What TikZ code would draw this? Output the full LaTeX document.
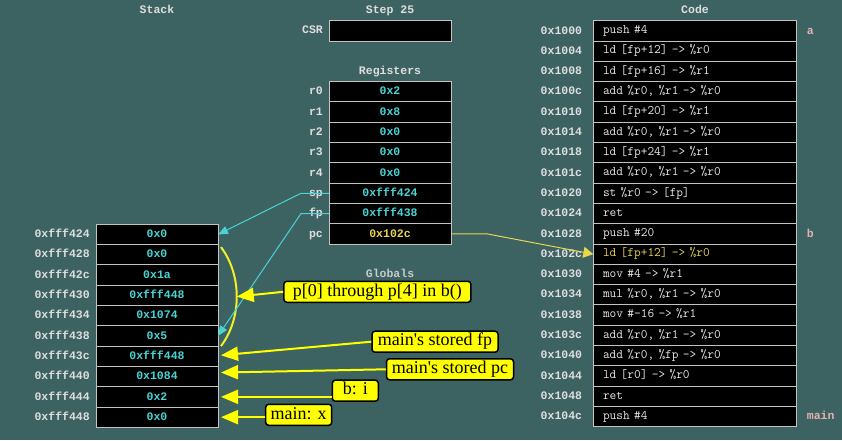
\documentclass[tikz,border=0pt]{standalone}
\usepackage{fontspec}
\usepackage{tikz}
\usetikzlibrary{positioning,arrows.meta}
\newfontfamily\lblmono{Liberation Mono}
\newfontfamily\calloutserif{Liberation Serif}

\definecolor{bgteal}{RGB}{61,98,98}
\definecolor{lblgrey}{RGB}{222,222,222}
\definecolor{cellline}{RGB}{195,195,195}
\definecolor{valcyan}{RGB}{72,212,212}
\definecolor{pcyellow}{RGB}{232,214,80}
\definecolor{codetxt}{RGB}{232,232,232}
\definecolor{tagpink}{RGB}{228,178,178}
\definecolor{noteyellow}{RGB}{255,255,0}
\definecolor{arcyellow}{RGB}{240,240,40}

\tikzset{
  lbl/.style={font=\lblmono\bfseries\fontsize{11.5}{12}\selectfont, text=lblgrey, inner sep=0pt, text height=9.4pt, text depth=3pt},
  cell/.style={draw=cellline, fill=black, line width=1pt, minimum width=122pt, minimum height=20.3pt, inner sep=0pt, outer sep=0pt, text height=9.4pt, text depth=3pt, font=\lblmono\bfseries\fontsize{11.5}{12}\selectfont, text=valcyan},
  codecell/.style={cell, minimum width=203.4pt, text width=184pt, inner xsep=9.7pt, align=left, text height=8.5pt, text depth=3pt, font=\ttfamily\fontsize{13}{14}\selectfont, text=codetxt},
  note/.style={draw=black, line width=1.5pt, fill=noteyellow, rounded corners=3pt, font=\calloutserif\fontsize{18}{20}\selectfont, inner xsep=5pt, inner ysep=0pt, minimum height=21pt, text height=12.5pt, text depth=4pt},
  notearrow/.style={draw=noteyellow, line width=2pt, -{Triangle[length=17pt,width=14pt]}},
  ptrline/.style={draw=valcyan, line width=1pt, -{Triangle[length=10pt,width=8pt]}},
}

\begin{document}
\begin{tikzpicture}[x=1pt, y=-1pt]
        \useasboundingbox (0,0) rectangle (842,440);
        \fill[bgteal] (0,0) rectangle (842,440);

        % Headers
        \node[lbl] (stackhead) at (157,10) {Stack};
        \node[lbl] (stephead) at (390,10) {Step 25};
        \node[lbl] (codehead) at (695,10) {Code};
        \node[lbl] (reghead) at (390,71) {Registers};
        \node[lbl, text=lblgrey!85!bgteal] (globhead) at (390,274) {Globals};

        % CSR
        \node[cell, minimum height=21pt] (csr) at (390,30.5) {};
        \node[lbl, left=6pt of csr] {CSR};

        % Registers
        \foreach \reg/\val [count=\i] in {r0/0x2, r1/0x8, r2/0x0, r3/0x0, r4/0x0, sp/0xfff424, fp/0xfff438, pc/0x102c}{
            \ifnum\i=8 \def\valcol{pcyellow}\else\def\valcol{valcyan}\fi
            \node[cell, text=\valcol] (r\reg) at (390,{71.45+20.3*\i}) {\val};
            \node[lbl, left=6pt of r\reg] {\reg};
        }

        % Stack
        \foreach \addr/\val [count=\i] in {0xfff424/0x0, 0xfff428/0x0, 0xfff42c/0x1a, 0xfff430/0xfff448, 0xfff434/0x1074,
            0xfff438/0x5, 0xfff43c/0xfff448, 0xfff440/0x1084, 0xfff444/0x2, 0xfff448/0x0}{
            \node[cell] (s\i) at (157,{214.15+20.3*\i}) {\val};
            \node[lbl, left=6pt of s\i] {\addr};
        }

        % Code
        \foreach \addr/\txt [count=\i] in {0x1000/{push \#4}, 0x1004/{ld [fp+12] -> \%r0}, 0x1008/{ld [fp+16] -> \%r1},
            0x100c/{add \%r0, \%r1 -> \%r0}, 0x1010/{ld [fp+20] -> \%r1}, 0x1014/{add \%r0, \%r1 -> \%r0},
            0x1018/{ld [fp+24] -> \%r1}, 0x101c/{add \%r0, \%r1 -> \%r0}, 0x1020/{st \%r0 -> [fp]}, 0x1024/{ret},
            0x1028/{push \#20}, 0x102c/{ld [fp+12] -> \%r0}, 0x1030/{mov \#4 -> \%r1}, 0x1034/{mul \%r0, \%r1 -> \%r0},
            0x1038/{mov \#-16 -> \%r1}, 0x103c/{add \%r0, \%r1 -> \%r0}, 0x1040/{add \%r0, \%fp -> \%r0},
            0x1044/{ld [r0] -> \%r0}, 0x1048/{ret}, 0x104c/{push \#4}}{
            \ifnum\i=12 \def\txtcol{pcyellow}\else\def\txtcol{codetxt}\fi
            \node[codecell, text=\txtcol] (c\i) at (695,{10.55+20.3*\i}) {\txt};
            \node[lbl, left=11pt of c\i] {\addr};
        }
        \node[lbl, text=tagpink, right=10pt of c1] (taga) {a};
        \node[lbl, text=tagpink, right=10pt of c11] (tagb) {b};
        \node[lbl, text=tagpink, right=10pt of c20] (tagmain) {main};

        % Pointers
        \draw[draw=arcyellow, line width=2pt] ([xshift=3pt,yshift=-2.5pt]s2.north east) .. controls +(21,28) and +(21,-28) .. ([xshift=3pt]s6.south east) coordinate[pos=0.5] (arcmid);
        \draw[ptrline] (rsp.west) -- ++(-28,0) -- (s1.east);
        \draw[ptrline] (rfp.west) -- ++(-28,0) -- (s6.east);
        \draw[ptrline, draw=pcyellow, -{Triangle[length=10pt,width=11pt]}] (rpc.east) -- ++(36,0) -- (c12.west);

        % Notes
        \node[note, minimum width=187pt] (co1) at (377.4,291.8) {p[0] through p[4] in b()};
        \node[note, minimum width=126pt] (co2) at (435,341.7) {main\textquotesingle s stored fp};
        \node[note, minimum width=127pt] (co3) at (450,369.3) {main\textquotesingle s stored pc};
        \node[note, minimum width=46pt] (co4) at (355.3,390.7) {b: i};
        \node[note, minimum width=63pt] (co5) at (298.7,414.8) {main: x};

        \draw[notearrow] (co1.west) -- (arcmid);
        \draw[notearrow] (co2.west) -- ([xshift=3pt,yshift=1pt]s7.east);
        \draw[notearrow] (co3.west) -- ([xshift=3pt,yshift=4pt]s8.east);
        \draw[notearrow] (co4.west |- s9.east) -- ([xshift=3pt]s9.east);
        \draw[notearrow] (co5.west |- s10.east) -- ([xshift=3pt]s10.east);
    \end{tikzpicture}
\end{document}
